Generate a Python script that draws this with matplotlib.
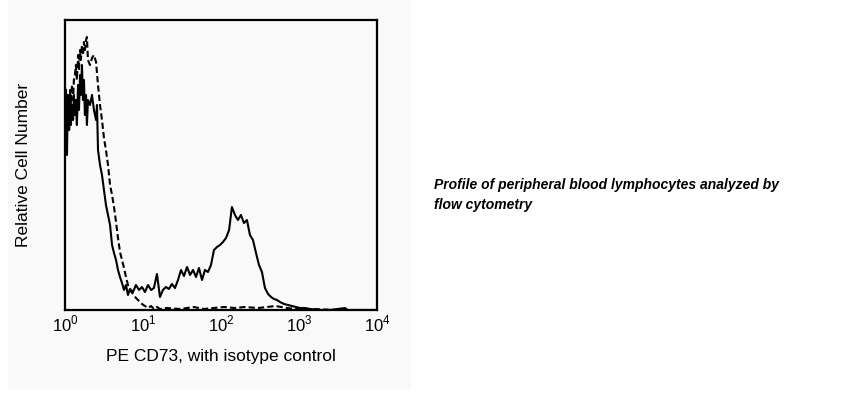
import matplotlib.pyplot as plt
from matplotlib.patches import Rectangle

# Fluorescence intensity (channel centres) and relative counts
pe_cd73_x = [1.03, 1.06, 1.09, 1.13, 1.16, 1.19, 1.23, 1.27, 1.30, 1.34, 1.38, 1.42,
             1.47, 1.51, 1.56, 1.60, 1.65, 1.70, 1.75, 1.80, 1.86, 1.91, 1.97, 2.09,
             2.22, 2.35, 2.50, 2.57, 2.65, 2.81, 2.98, 3.16, 3.35, 3.56, 3.78, 4.01,
             4.25, 4.51, 4.78, 5.07, 5.38, 5.71, 6.05, 6.42, 6.81, 7.44, 8.13, 8.89,
             9.71, 10.6, 11.6, 12.7, 13.8, 15.1, 16.5, 18.0, 19.7, 21.5, 23.5, 25.7,
             28.1, 30.7, 33.5, 36.7, 40.1, 43.8, 47.8, 52.2, 57.1, 62.3, 68.1, 74.4,
             81.3, 88.9, 97.1, 106, 116, 127, 138, 151, 165, 180, 197, 215, 235, 257,
             281, 307, 335, 366, 401, 438, 478, 522, 571, 642, 723, 813, 915, 1030,
             1194, 1384, 1858, 2497, 3888, 4200, 6055, 9428]
pe_cd73_y = [220, 155, 215, 180, 210, 185, 205, 190, 215, 195, 210, 185,
             225, 200, 235, 215, 245, 210, 230, 195, 215, 185, 210, 205,
             215, 200, 190, 205, 160, 145, 135, 120, 105, 95, 85, 65,
             57, 50, 40, 33, 27, 20, 25, 15, 21, 18, 25, 20,
             23, 18, 25, 20, 22, 36, 13, 20, 23, 21, 26, 22,
             30, 40, 34, 43, 35, 40, 33, 42, 30, 40, 38, 45,
             60, 63, 65, 68, 72, 80, 103, 95, 90, 95, 87, 90, 75, 70,
             57, 45, 38, 22, 16, 13, 11, 10, 8, 6, 5, 4, 3, 2,
             2, 1, 0, 0, 2, 0, 0, 0]

isotype_x = [1.03, 1.06, 1.09, 1.13, 1.16, 1.19, 1.23, 1.27, 1.30, 1.34, 1.38, 1.42,
             1.47, 1.51, 1.56, 1.60, 1.65, 1.70, 1.75, 1.80, 1.86, 1.91, 1.97, 2.09,
             2.22, 2.35, 2.50, 2.65, 2.81, 2.98, 3.16, 3.35, 3.56, 3.78, 4.01, 4.25,
             4.51, 4.78, 5.07, 5.38, 5.71, 6.05, 6.42, 6.81, 7.44, 8.13, 8.89, 9.71,
             10.6, 11.6, 12.7, 13.8, 15.1, 16.5, 20, 30, 45, 60, 80, 110, 150, 200,
             300, 500, 700, 1000, 1500, 3000, 6000, 9428]
isotype_y = [205, 185, 210, 200, 220, 205, 225, 210, 230, 235, 245, 230,
             255, 240, 260, 250, 265, 255, 268, 260, 270, 273, 250, 245,
             252, 255, 248, 225, 205, 190, 172, 160, 145, 125, 115, 103,
             88, 72, 58, 50, 42, 33, 25, 20, 16, 12, 9, 6,
             4, 2, 4, 1, 3, 1, 2, 1, 3, 1, 2, 3, 2, 3,
             2, 4, 2, 1, 1, 0, 0, 0]

tick_vals = [1, 10, 100, 1000, 10000]
tick_labels = ['$10^0$', '$10^1$', '$10^2$', '$10^3$', '$10^4$']

plt.rcParams['font.family'] = ['Liberation Sans', 'DejaVu Sans']
plt.rcParams['mathtext.fontset'] = 'custom'
plt.rcParams['mathtext.rm'] = 'Liberation Sans'

fig = plt.figure(figsize=(8.51, 3.96), dpi=100)
fig.patch.set_facecolor('white')
# light grey panel behind the chart
panel = Rectangle((8 / 851, 6 / 396), 403 / 851, 390 / 396,
                  transform=fig.transFigure, facecolor='#f9f9f9',
                  edgecolor='none', zorder=-10)
fig.add_artist(panel)

ax = fig.add_axes([65 / 851, 86 / 396, 312 / 851, 290 / 396])
ax.set_facecolor('#f9f9f9')
ax.plot(isotype_x, isotype_y, color='black', lw=1.5, linestyle=(0, (3, 1.5)))
ax.plot(pe_cd73_x, pe_cd73_y, color='black', lw=1.5)

ax.set_xscale('log')
ax.set_xlim(1, 10000)
ax.set_ylim(0, 290)
ax.set_xticks(tick_vals)
ax.set_xticklabels(tick_labels, fontsize=12)
ax.minorticks_off()
ax.set_yticks([])
ax.tick_params(axis='x', length=0, pad=3)
for s in ax.spines.values():
    s.set_linewidth(1.6)

ax.set_xlabel('PE CD73, with isotype control', fontsize=12.5)
ax.xaxis.set_label_coords(0.5, -0.135)
ax.set_ylabel('Relative Cell Number', fontsize=12.5)
ax.yaxis.set_label_coords(-0.11, 0.5)

fig.text(434 / 851, 1 - 178 / 396,
         'Profile of peripheral blood lymphocytes analyzed by\nflow cytometry',
         fontsize=10, fontweight='bold', fontstyle='italic', va='top',
         linespacing=1.5, transform=fig.transFigure)

fig.savefig('out.png', dpi=100)
